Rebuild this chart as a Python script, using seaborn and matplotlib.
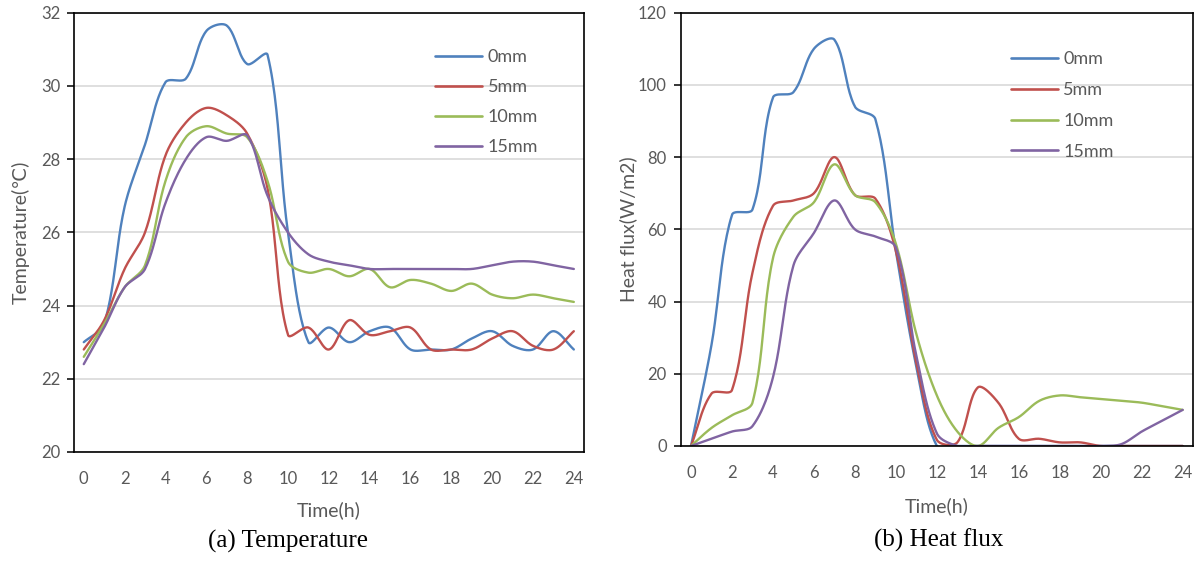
import numpy as np
import pandas as pd
import matplotlib
matplotlib.use("Agg")
import matplotlib.pyplot as plt
from matplotlib.lines import Line2D
import seaborn as sns

hours = list(range(25))
depths = ["0mm", "5mm", "10mm", "15mm"]
colors = ["#4F81BD", "#C0504D", "#9BBB59", "#8064A2"]

temp_0mm = [23.0, 23.5, 26.7, 28.4, 30.1, 30.2, 31.5, 31.65, 30.6, 30.85, 26.0, 23.0, 23.4,
            23.0, 23.3, 23.4, 22.8, 22.8, 22.8, 23.1, 23.3, 22.9, 22.8, 23.3, 22.8]
temp_5mm = [22.8, 23.6, 25.0, 26.0, 28.1, 29.0, 29.4, 29.2, 28.7, 27.2, 23.2, 23.4, 22.8,
            23.6, 23.2, 23.3, 23.4, 22.8, 22.8, 22.8, 23.1, 23.3, 22.9, 22.8, 23.3]
temp_10mm = [22.6, 23.5, 24.5, 25.1, 27.4, 28.6, 28.9, 28.7, 28.6, 27.4, 25.2, 24.9, 25.0,
             24.8, 25.0, 24.5, 24.7, 24.6, 24.4, 24.6, 24.3, 24.2, 24.3, 24.2, 24.1]
temp_15mm = [22.4, 23.4, 24.5, 25.0, 26.8, 28.0, 28.6, 28.5, 28.65, 27.0, 26.0, 25.4, 25.2,
             25.1, 25.0, 25.0, 25.0, 25.0, 25.0, 25.0, 25.1, 25.2, 25.2, 25.1, 25.0]

flux_0mm = [0, 28, 64, 65.5, 96.5, 98, 110, 112.5, 94, 90.5, 54, 22, 0,
            0, 0, 0, 0, 0, 0, 0, 0, 0, 0, 0, 0]
flux_5mm = [0, 14.5, 15.5, 48, 66.5, 68, 70, 80, 69.5, 68.5, 54, 23, 1.7,
            1.0, 16.2, 12, 2, 2, 1, 1, 0, 0, 0, 0, 0]
flux_10mm = [0, 5, 8.5, 12, 52, 63.5, 67.5, 78, 69.5, 67.5, 56, 31, 14,
             4, 0, 5, 8, 12.5, 14, 13.5, 13, 12.5, 12, 11, 10]
flux_15mm = [0, 2, 4, 5.5, 19, 50, 59, 68, 60, 58, 55, 25, 3.5,
             0, 0, 0, 0, 0, 0, 0, 0, 0.5, 4, 7, 10]

temp_series = [temp_0mm, temp_5mm, temp_10mm, temp_15mm]
flux_series = [flux_0mm, flux_5mm, flux_10mm, flux_15mm]


def smooth(x, y, xscale, yscale, n=24):
    # Excel-like smoothed line: Bezier through every point, tangents weighted
    # by on-screen chord lengths so flat steps do not overshoot
    pts = np.column_stack([np.asarray(x, float) * xscale, np.asarray(y, float) * yscale])
    pts = np.vstack([pts[:1], pts, pts[-1:]])
    t = np.linspace(0, 1, n, endpoint=False)[:, None]
    out = []
    for i in range(1, len(pts) - 2):
        p0, p1, p2, p3 = pts[i - 1], pts[i], pts[i + 1], pts[i + 2]
        d01 = np.linalg.norm(p1 - p0)
        d12 = np.linalg.norm(p2 - p1)
        d23 = np.linalg.norm(p3 - p2)
        w1 = d12 / (d01 + d12) if d01 + d12 > 0 else 0.5
        w2 = d12 / (d12 + d23) if d12 + d23 > 0 else 0.5
        c1 = p1 + (p2 - p0) * w1 / 3
        c2 = p2 - (p3 - p1) * w2 / 3
        b = (1 - t) ** 3 * p1 + 3 * (1 - t) ** 2 * t * c1 + 3 * (1 - t) * t ** 2 * c2 + t ** 3 * p2
        out.append(b)
    out.append(pts[-1:])
    out = np.vstack(out)
    return out[:, 0] / xscale, out[:, 1] / yscale


def long_frame(series, yscale):
    rows = []
    for name, vals in zip(depths, series):
        sx, sy = smooth(hours, vals, 20.4, yscale)
        rows.append(pd.DataFrame({"hour": sx, "value": sy, "depth": name}))
    return pd.concat(rows, ignore_index=True)


sns.set_style("white")
plt.rcParams["font.family"] = ["Lato", "DejaVu Sans"]
gray = "#595959"

fig = plt.figure(figsize=(12, 5.61), dpi=100)
ax1 = fig.add_axes([0.0613, 0.1943, 0.4254, 0.783])
ax2 = fig.add_axes([0.5673, 0.205, 0.4268, 0.7724])


def style_axis(ax, df, ylim, ystep, ylabel, ylabel_x, xlabel_y, ypad, leg_anchor, leg_space):
    sns.lineplot(data=df, x="hour", y="value", hue="depth", palette=colors,
                 estimator=None, sort=False, legend=False, linewidth=1.7, ax=ax)
    ax.set_xlim(-0.5, 24.5)
    ax.set_ylim(*ylim)
    ax.set_yticks(np.arange(ylim[0], ylim[1] + 0.1, ystep))
    ax.yaxis.grid(True, color="#d9d9d9", linewidth=1.2)
    ax.set_axisbelow(True)
    for sp in ax.spines.values():
        sp.set_color("black")
        sp.set_linewidth(1.2)
    # tick marks between categories, Excel style
    ax.set_xticks(np.arange(1.5, 24, 2))
    ax.set_xticks(np.arange(0.5, 24, 2), minor=True)
    ax.tick_params(axis="x", which="major", direction="in", length=5, width=1.1,
                   labelbottom=False, color="black")
    ax.tick_params(axis="x", which="minor", direction="in", length=3.4, width=1.1,
                   color="black")
    ax.tick_params(axis="y", which="major", direction="out", length=4.7, width=1.1,
                   left=True, pad=ypad, labelsize=12, labelcolor=gray, color="black")
    sec = ax.secondary_xaxis("bottom")
    sec.set_xticks(range(0, 25, 2))
    sec.tick_params(length=0, pad=13.5, labelsize=12, labelcolor=gray)
    sec.spines["bottom"].set_visible(False)
    ax.set_xlabel("Time(h)", fontsize=14, color=gray, va="center")
    ax.xaxis.set_label_coords(0.5, xlabel_y)
    ax.set_ylabel(ylabel, fontsize=14, color=gray, va="center")
    ax.yaxis.set_label_coords(ylabel_x, 0.5)
    handles = [Line2D([], [], color=c, linewidth=1.9) for c in colors]
    ax.legend(handles, depths, loc="upper left", bbox_to_anchor=leg_anchor,
              frameon=False, fontsize=13, handlelength=2.6, handletextpad=0.3,
              labelspacing=leg_space, borderpad=0, borderaxespad=0, labelcolor=gray)


style_axis(ax1, long_frame(temp_series, 36.6), (20, 32), 2, "Temperature(\u2103)",
           -0.1028, -0.132, 4.5, (0.709, 0.917), 0.78)
style_axis(ax2, long_frame(flux_series, 3.61), (0, 120), 20, "Heat flux(W/m2)",
           -0.1017, -0.1385, 5.3, (0.645, 0.911), 0.82)

fig.text(0.24, 0.0344, "(a) Temperature", family="Liberation Serif", fontsize=18,
         ha="center", va="center", color="black")
fig.text(0.7825, 0.0374, "(b) Heat flux", family="Liberation Serif", fontsize=18,
         ha="center", va="center", color="black")

fig.savefig("out.png", dpi=100)
